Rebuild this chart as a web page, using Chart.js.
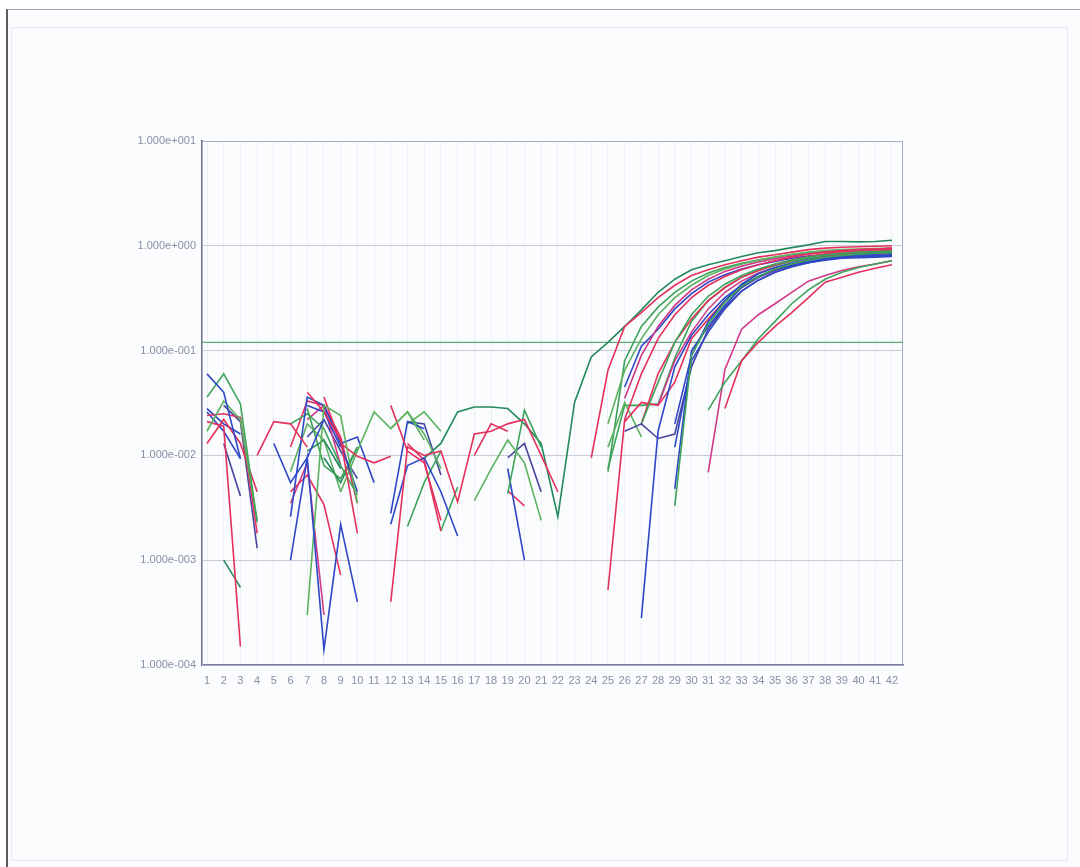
<!DOCTYPE html>
<html>
<head>
<meta charset="utf-8">
<script src="https://cdn.jsdelivr.net/npm/chart.js@4.4.1/dist/chart.umd.min.js"></script>
<style>
  html, body { margin: 0; padding: 0; background: #ffffff; }
  body { width: 1080px; height: 867px; position: relative; overflow: hidden; }
  #sheet { position: absolute; left: 6px; top: 9px; width: 1074px; height: 858px; background: #fafcfd;
           border-left: 2px solid #5a5a60; border-top: 1px solid #a0a0a8; box-sizing: border-box; }
  #frame { position: absolute; left: 11px; top: 27px; width: 1057px; height: 834px; border: 1px solid #e6e9ee; box-sizing: border-box; }
  #c { position: absolute; left: 0; top: 0; }
</style>
</head>
<body>
<div id="sheet"></div>
<div id="frame"></div>
<canvas id="c" width="1080" height="867"></canvas>
<script>
// ---- cycles / tick labels ----
const CYCLES = Array.from({length: 42}, (_, i) => i + 1);
const Y_TICKS = [1e-4, 1e-3, 1e-2, 1e-1, 1, 10];
const Y_TICK_LABELS = ['1.000e-004', '1.000e-003', '1.000e-002', '1.000e-001', '1.000e+000', '1.000e+001'];
const THRESHOLD = 0.12;

// ---- colours ----
const DG = '#24895c', G = '#3ea35a', LG = '#5bb25f', R = '#e5305c', M = '#d03a88', B = '#2f47c6', DB = '#47449f';

// ---- amplification curves: [first cycle, values...] ----
const amp1  = [14, 0.0094,0.013,0.026,0.029,0.029,0.028,0.02,0.013,0.0026,0.032,0.087,0.12,0.17,0.245,0.36,0.48,0.59,0.66,0.72,0.79,0.86,0.9,0.96,1.02,1.1,1.1,1.09,1.1,1.13];
const amp2  = [24, 0.0095,0.065,0.17,0.23,0.32,0.42,0.52,0.59,0.66,0.72,0.78,0.82,0.87,0.92,0.95,0.97,0.98,0.99,1.0];
const amp3  = [25, 0.007,0.08,0.17,0.26,0.36,0.46,0.55,0.62,0.68,0.73,0.78,0.82,0.86,0.89,0.9,0.91,0.92,0.93];
const amp4  = [26, 0.045,0.11,0.16,0.25,0.35,0.45,0.53,0.6,0.66,0.71,0.76,0.8,0.82,0.84,0.85,0.86,0.87];
const amp5  = [26, 0.035,0.09,0.17,0.27,0.38,0.48,0.57,0.64,0.7,0.75,0.8,0.84,0.87,0.88,0.89,0.9,0.9];
const amp6  = [25, 0.0075,0.03,0.03,0.031,0.085,0.19,0.3,0.4,0.5,0.58,0.65,0.71,0.76,0.8,0.82,0.83,0.84,0.85];
const amp7  = [25, 0.012,0.032,0.015];
const amp8  = [25, 0.02,0.065,0.13,0.22,0.32,0.42,0.52,0.6,0.67,0.73,0.78,0.83,0.87,0.9,0.92,0.93,0.94,0.95];
const amp9  = [26, 0.021,0.032,0.03,0.05,0.13,0.2,0.3,0.4,0.5,0.58,0.66,0.73,0.79,0.84,0.87,0.9,0.92];
const amp10 = [25, 0.00052,0.022,0.06,0.13,0.22,0.32,0.42,0.51,0.59,0.66,0.72,0.78,0.83,0.87,0.9,0.92,0.93,0.94];
const amp11 = [27, 0.02,0.06,0.12,0.2,0.3,0.4,0.5,0.58,0.66,0.73,0.79,0.84,0.88,0.91,0.93,0.95];
const amp12 = [26, 0.017,0.02,0.0145,0.016,0.07,0.16,0.26,0.37,0.47,0.56,0.63,0.69,0.74,0.77,0.79,0.8,0.81];
const amp13 = [27, 0.00028,0.017,0.07,0.14,0.22,0.32,0.42,0.51,0.59,0.65,0.7,0.74,0.77,0.79,0.8,0.8];
const amp14 = [29, 0.0048,0.1,0.17,0.27,0.4,0.5,0.59,0.65,0.72,0.76,0.78,0.8,0.8,0.82];
const amp15 = [29, 0.012,0.08,0.15,0.25,0.37,0.47,0.56,0.63,0.69,0.73,0.76,0.77,0.78,0.79];
const amp16 = [29, 0.02,0.09,0.19,0.3,0.43,0.54,0.62,0.68,0.74,0.78,0.8,0.82,0.83,0.84];
const amp17 = [29, 0.0033,0.09,0.18,0.29,0.41,0.51,0.6,0.67,0.73,0.78,0.81,0.83,0.85,0.86];
const amp18 = [31, 0.0069,0.066,0.16,0.22,0.28,0.36,0.46,0.52,0.58,0.63,0.67,0.72];
const amp19 = [31, 0.027,0.05,0.08,0.13,0.19,0.28,0.38,0.48,0.56,0.62,0.67,0.72];
const amp20 = [32, 0.028,0.08,0.12,0.17,0.23,0.32,0.45,0.5,0.56,0.61,0.66];
const amp21 = [27, 0.02,0.05,0.12,0.22,0.33,0.43,0.52,0.6,0.67,0.73,0.78,0.82,0.85,0.87,0.88,0.89];
const amp22 = [28, 0.03,0.08,0.15,0.25,0.36,0.46,0.55,0.62,0.68,0.73,0.77,0.8,0.82,0.84,0.85];

// ---- early background noise fragments: [first cycle, values...] ----
const n1  = [1, 0.06,0.04,0.0093];
const n2  = [1, 0.036,0.06,0.031,0.0023];
const n3  = [1, 0.017,0.033,0.022,0.0024];
const n4  = [1, 0.013,0.022,0.013,0.0045];
const n5  = [1, 0.024,0.025,0.023,0.0018];
const n6  = [1, 0.021,0.019,0.00015];
const n7  = [1, 0.026,0.017,0.0093];
const n8  = [2, 0.013,0.0041];
const n9  = [2, 0.001,0.00055];
const n10 = [2, 0.03,0.021,0.0013];
const n11 = [4, 0.01,0.021,0.02,0.012];
const n12 = [5, 0.013,0.0055,0.0095,0.022];
const n13 = [6, 0.001,0.0095,0.00014,0.0022,0.0004];
const n14 = [7, 0.0003,0.03,0.024,0.0035];
const n15 = [7, 0.04,0.026,0.014,0.0018];
const n16 = [6, 0.0026,0.036,0.03,0.013,0.0045];
const n17 = [8, 0.036,0.013,0.0098,0.0085,0.0098];
const n18 = [9, 0.0045,0.011,0.026,0.018,0.026,0.014];
const n19 = [9, 0.013,0.015,0.0055];
const n20 = [6, 0.0045,0.0065,0.0034,0.00072];
const n21 = [7, 0.011,0.014,0.0075];
const n22 = [7, 0.028,0.008,0.006,0.012];
const n23 = [6, 0.02,0.025,0.018,0.008,0.0042];
const n24 = [6, 0.0035,0.0085,0.0003];
const n25 = [12, 0.0004,0.012,0.01,0.011,0.0036,0.016,0.017,0.02,0.022,0.01,0.0045];
const n26 = [12, 0.03,0.011,0.0085,0.0024];
const n27 = [12, 0.0028,0.021,0.018];
const n28 = [12, 0.0022,0.008,0.0095,0.0045,0.0017];
const n29 = [12, 0.018,0.026,0.016,0.0075];
const n30 = [13, 0.0021,0.0055,0.011];
const n31 = [13, 0.02,0.026,0.017];
const n32 = [13, 0.013,0.009,0.0019];
const n33 = [15, 0.0019,0.005];
const n34 = [17, 0.0037,0.0074,0.014,0.0085,0.0024];
const n35 = [17, 0.01,0.02,0.017];
const n36 = [19, 0.0043,0.027,0.012];
const n37 = [19, 0.0095,0.013,0.0045];
const n38 = [19, 0.0075,0.001];
const n39 = [19, 0.0046,0.0033];
const n40 = [13, 0.021,0.02,0.0065];
const n41 = [7, 0.03,0.026,0.012];
const n42 = [6, 0.012,0.033,0.03,0.015,0.0035];
const n43 = [8, 0.0095,0.0055,0.012];
const n44 = [7, 0.022,0.03,0.008];
const n45 = [6, 0.007,0.02,0.014,0.0045];
const n46 = [7, 0.015,0.022,0.011,0.006];
const n47 = [1, 0.028,0.02,0.016];

const NOISE = [
  [n1,B],[n2,G],[n3,LG],[n4,R],[n5,R],[n6,R],[n7,B],[n8,DB],[n9,DG],[n10,DB],
  [n11,R],[n12,B],[n13,B],[n14,LG],[n15,R],[n16,B],[n17,R],[n18,LG],[n19,B],[n20,R],
  [n21,DG],[n22,G],[n23,G],[n24,M],[n25,R],[n26,R],[n27,B],[n28,B],[n29,LG],[n30,G],
  [n31,LG],[n32,R],[n33,G],[n34,LG],[n35,R],[n36,G],[n37,DB],[n38,B],[n39,R],[n40,DB],
  [n41,B],[n42,R],[n43,DG],[n44,M],[n45,LG],[n46,DB],[n47,B]
];
const AMPS = [
  [amp20,R],[amp19,G],[amp18,M],[amp17,G],[amp16,B],[amp15,B],[amp14,B],[amp13,B],[amp12,DB],
  [amp22,M],[amp21,G],[amp11,R],[amp10,R],[amp9,R],[amp8,LG],[amp7,LG],[amp6,G],[amp5,M],
  [amp4,B],[amp3,G],[amp2,R],[amp1,DG]
];

function expand(series) {
  const start = series[0];
  return CYCLES.map(c => {
    const k = c - start + 1;
    return (k >= 1 && k < series.length) ? series[k] : null;
  });
}

const datasets = NOISE.concat(AMPS).map(([s, col]) => ({
  data: expand(s),
  borderColor: col,
  borderWidth: 1.6,
  pointRadius: 0,
  tension: 0,
  spanGaps: false,
  fill: false
}));

const framePlugin = {
  id: 'frameAndThreshold',
  beforeDatasetsDraw(chart) {
    const {ctx, chartArea: a, scales} = chart;
    ctx.save();
    ctx.strokeStyle = '#a9acc2';
    ctx.lineWidth = 1;
    ctx.strokeRect(a.left + 0.5, a.top + 0.5, a.right - a.left - 1, a.bottom - a.top);
    const y = scales.y.getPixelForValue(THRESHOLD);
    ctx.strokeStyle = '#5eaa7c';
    ctx.lineWidth = 1.3;
    ctx.beginPath();
    ctx.moveTo(a.left, y);
    ctx.lineTo(a.right, y);
    ctx.stroke();
    ctx.restore();
  }
};

new Chart(document.getElementById('c'), {
  type: 'line',
  data: { labels: CYCLES, datasets },
  options: {
    responsive: false,
    animation: false,
    devicePixelRatio: 1,
    layout: { padding: { left: 0, top: 141, right: 177, bottom: 172 } },
    plugins: { legend: { display: false }, tooltip: { enabled: false } },
    scales: {
      x: {
        type: 'linear',
        min: 0.7,
        max: 42.66,
        afterBuildTicks: (s) => { s.ticks = CYCLES.map(v => ({ value: v })); },
        afterFit: (s) => { s.height = 30; },
        ticks: {
          autoSkip: false, maxRotation: 0, padding: 9,
          color: '#8a8ea6',
          font: { family: 'Liberation Sans', size: 11 },
          callback: (v) => String(v)
        },
        grid: { color: 'rgba(200,206,222,0.28)', lineWidth: 1, drawTicks: false },
        border: { color: '#76799c', width: 1.8 }
      },
      y: {
        type: 'logarithmic',
        min: 1e-4,
        max: 10,
        afterBuildTicks: (s) => { s.ticks = Y_TICKS.map(v => ({ value: v })); },
        afterFit: (s) => { s.width = 202; },
        ticks: {
          padding: 6,
          color: '#8a8ea6',
          font: { family: 'Liberation Sans', size: 11 },
          callback: (v, i) => Y_TICK_LABELS[i]
        },
        grid: { color: '#cbcbdb', lineWidth: 1, drawTicks: false },
        border: { color: '#6f7398', width: 2 }
      }
    }
  },
  plugins: [framePlugin]
});
</script>
</body>
</html>
